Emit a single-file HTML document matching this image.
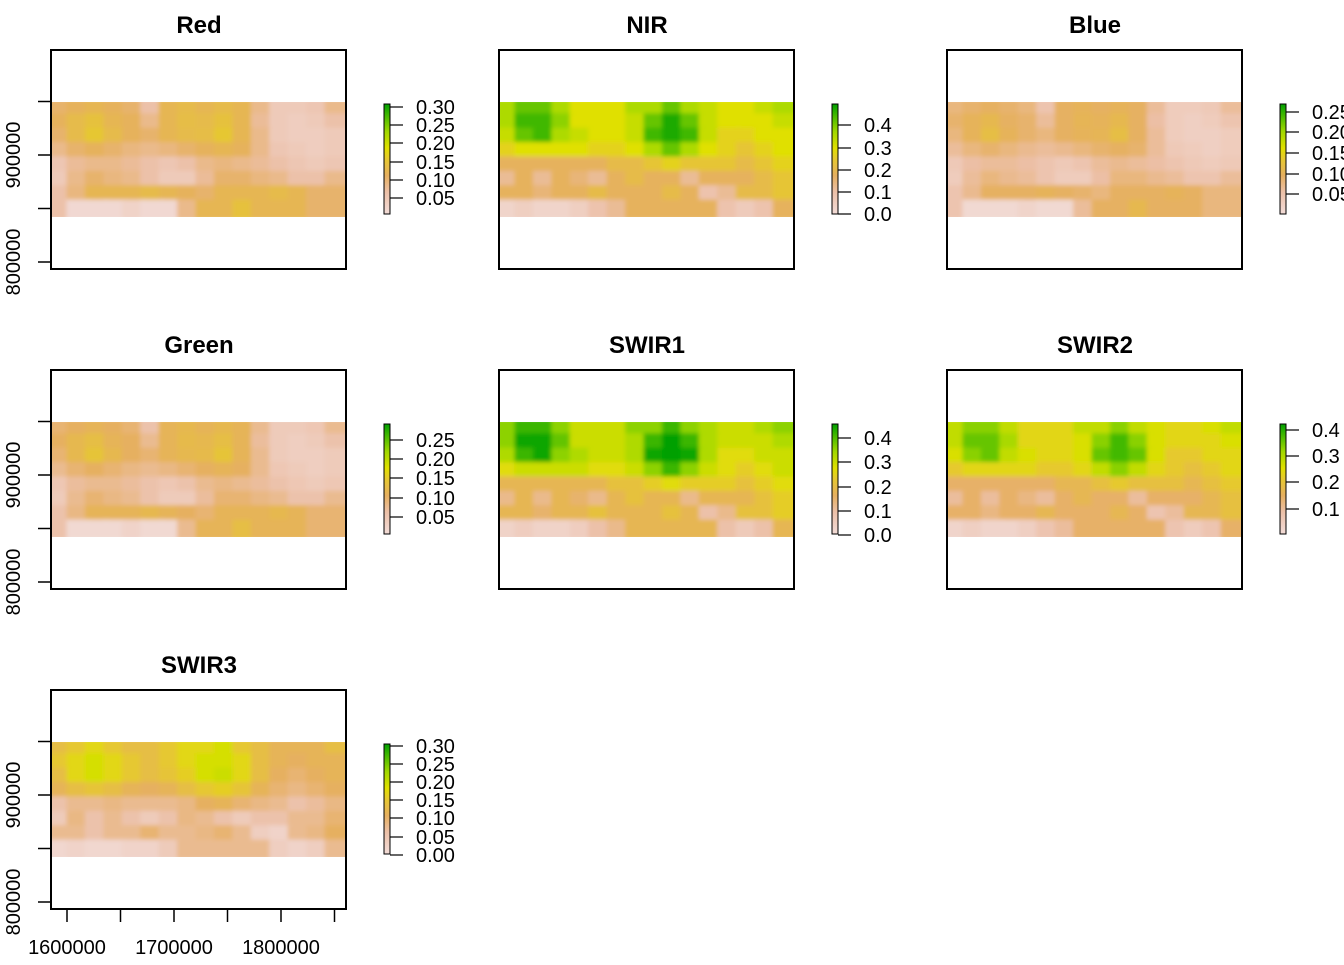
<!DOCTYPE html>
<html><head><meta charset="utf-8"><style>
body{margin:0;background:#fff;font-family:"Liberation Sans",sans-serif}
svg text{font-family:"Liberation Sans",sans-serif}
</style></head><body>
<svg id="c" width="1344" height="960"
 xmlns="http://www.w3.org/2000/svg">
<defs>
<linearGradient id="lg" x1="0" y1="1" x2="0" y2="0">
<stop offset="0" stop-color="#f2dcd8"/><stop offset="0.2" stop-color="#ecc0a8"/>
<stop offset="0.35" stop-color="#e6b060"/><stop offset="0.5" stop-color="#e6c830"/>
<stop offset="0.6" stop-color="#e0e000"/><stop offset="0.75" stop-color="#a0d800"/>
<stop offset="0.9" stop-color="#40b800"/><stop offset="1" stop-color="#00a000"/>
</linearGradient>
<filter id="bl"><feGaussianBlur stdDeviation="2"/></filter>
<clipPath id="cp"><rect x="0" y="0" width="295" height="115"/></clipPath>
</defs>
</svg>
<script>
const redGrid=[
[0.25,0.28,0.3,0.28,0.25,0.15,0.3,0.32,0.3,0.32,0.3,0.2,0.1,0.1,0.12,0.2],
[0.28,0.32,0.35,0.3,0.28,0.2,0.3,0.33,0.32,0.35,0.3,0.18,0.1,0.08,0.1,0.15],
[0.25,0.32,0.38,0.32,0.28,0.25,0.3,0.32,0.33,0.38,0.3,0.2,0.1,0.08,0.08,0.1],
[0.2,0.25,0.28,0.25,0.22,0.2,0.22,0.25,0.28,0.3,0.28,0.2,0.12,0.1,0.08,0.1],
[0.12,0.18,0.2,0.2,0.18,0.15,0.12,0.15,0.2,0.22,0.2,0.18,0.15,0.12,0.1,0.12],
[0.1,0.2,0.25,0.22,0.2,0.15,0.1,0.1,0.18,0.25,0.25,0.22,0.2,0.15,0.15,0.2],
[0.15,0.22,0.3,0.3,0.3,0.32,0.3,0.28,0.25,0.3,0.3,0.3,0.32,0.3,0.25,0.25],
[0.15,0.02,0.02,0.02,0.05,0.02,0.02,0.2,0.3,0.3,0.35,0.3,0.3,0.3,0.25,0.25]];
const nirGrid=[
[0.6,0.7,0.7,0.6,0.5,0.5,0.5,0.6,0.6,0.7,0.6,0.55,0.5,0.5,0.55,0.6],
[0.6,0.75,0.75,0.65,0.5,0.5,0.5,0.55,0.7,0.8,0.7,0.55,0.5,0.5,0.5,0.55],
[0.55,0.7,0.75,0.6,0.55,0.5,0.5,0.55,0.75,0.8,0.75,0.55,0.45,0.45,0.5,0.5],
[0.45,0.5,0.5,0.5,0.5,0.45,0.45,0.5,0.6,0.7,0.6,0.5,0.45,0.4,0.45,0.5],
[0.3,0.3,0.3,0.3,0.3,0.3,0.35,0.35,0.4,0.45,0.4,0.4,0.4,0.35,0.4,0.45],
[0.2,0.3,0.2,0.3,0.25,0.2,0.3,0.35,0.3,0.3,0.2,0.3,0.3,0.3,0.35,0.4],
[0.3,0.3,0.25,0.3,0.3,0.35,0.3,0.3,0.3,0.35,0.3,0.15,0.2,0.35,0.35,0.4],
[0.05,0.08,0.05,0.05,0.08,0.15,0.2,0.3,0.3,0.3,0.3,0.3,0.15,0.1,0.15,0.3]];
const swir3Grid=[
[0.35,0.4,0.45,0.4,0.35,0.35,0.4,0.45,0.45,0.5,0.4,0.35,0.3,0.3,0.3,0.35],
[0.4,0.45,0.5,0.45,0.4,0.35,0.4,0.45,0.5,0.5,0.45,0.35,0.3,0.28,0.3,0.3],
[0.35,0.45,0.5,0.45,0.4,0.35,0.38,0.42,0.5,0.52,0.45,0.35,0.28,0.25,0.28,0.3],
[0.3,0.35,0.38,0.35,0.3,0.28,0.3,0.35,0.4,0.42,0.38,0.3,0.25,0.22,0.25,0.28],
[0.15,0.2,0.2,0.22,0.2,0.2,0.2,0.22,0.28,0.3,0.25,0.22,0.2,0.15,0.18,0.22],
[0.1,0.22,0.15,0.2,0.15,0.1,0.15,0.22,0.2,0.15,0.1,0.15,0.15,0.2,0.2,0.25],
[0.2,0.2,0.15,0.2,0.2,0.25,0.2,0.2,0.22,0.25,0.2,0.08,0.05,0.2,0.22,0.28],
[0.03,0.05,0.03,0.03,0.05,0.05,0.1,0.2,0.2,0.2,0.2,0.2,0.08,0.05,0.08,0.2]];
const titles=["Red","NIR","Blue","Green","SWIR1","SWIR2","SWIR3"];
const gains=[1.3,1.2,1.15,1.25,1.3,1.12,1.25];
const legendLabels=[
["0.30","0.25","0.20","0.15","0.10","0.05"],["0.4","0.3","0.2","0.1","0.0"],
["0.25","0.20","0.15","0.10","0.05"],["0.25","0.20","0.15","0.10","0.05"],
["0.4","0.3","0.2","0.1","0.0"],["0.4","0.3","0.2","0.1"],
["0.30","0.25","0.20","0.15","0.10","0.05","0.00"]];
const legendYs=[[107,125,143,162,180,198],[125,148,170,192,214],[112,132,153,174,194],
[440,459,478,498,517],[438,462,487,511,535],[430,456,482,509],[746,764,782,800,818,837,855]];
const yTickVals=[1000000,950000,900000,850000,800000];
const xTickVals=[1600000,1650000,1700000,1750000,1800000,1850000];
const xLabelVals=[1600000,1700000,1800000];

const NS="http://www.w3.org/2000/svg",svg=document.getElementById('c');
function el(t,a,p){const e=document.createElementNS(NS,t);for(const k in a)e.setAttribute(k,a[k]);(p||svg).appendChild(e);return e;}
const stops=[[0,[242,220,216]],[0.2,[236,192,168]],[0.35,[230,176,96]],[0.5,[230,200,48]],[0.6,[224,224,0]],[0.75,[160,216,0]],[0.9,[64,184,0]],[1,[0,160,0]]];
function cmap(v){v=Math.max(0,Math.min(1,v));for(let i=1;i<stops.length;i++){if(v<=stops[i][0]){const a=stops[i-1],b=stops[i],t=(v-a[0])/(b[0]-a[0]);return 'rgb('+a[1].map((c,j)=>Math.round(c+(b[1][j]-c)*t)).join(',')+')';}}return 'rgb(0,160,0)';}
const colX=[51,499,947],rowY=[50,370,690];
const yS=v=>155+(900000-v)*53.5/50000;
const xS=v=>67+(v-1600000)*107/100000;

titles.forEach((t,i)=>{
 const ox=colX[i%3]-51, oy=rowY[Math.floor(i/3)]-50;
 const g=el('g',{transform:`translate(${ox},${oy})`});
 
 
 const tt=el('text',{x:199,y:33,'text-anchor':'middle','font-size':24,'font-weight':'bold'},g);tt.textContent=t;
 
 const grid=i===6?swir3Grid:(t==="Red"||t==="Green"||t==="Blue"?redGrid:nirGrid);
 const r=el('g',{transform:'translate(51,102)','clip-path':'url(#cp)'},g);
 
 const inner=el('g',{filter:'url(#bl)'},r);
 const cw=295/16,ch=115/8;
 grid.forEach((row,ri)=>row.forEach((v,ci)=>{
  const c=el('rect',{x:ci*cw-3,y:ri*ch-3,width:cw+6,height:ch+6,fill:cmap(v*gains[i])},inner);
  
 }));
 const fr=el('rect',{x:51,y:50,width:295,height:219,fill:'none',stroke:'#000','stroke-width':2},g);
 
 if(i%3===0){
  yTickVals.forEach(v=>{if(yS(v)<50||yS(v)>269)return;el('line',{x1:38,x2:51,y1:yS(v),y2:yS(v),stroke:'#000','stroke-width':1.5},g);});
  [900000,800000].forEach(v=>{const l=el('text',{x:0,y:0,transform:`translate(20,${yS(v)}) rotate(-90)`,'text-anchor':'middle','font-size':20},g);l.textContent=v;
   });
 }
 if(i===6){
  xTickVals.forEach(v=>el('line',{x1:xS(v),x2:xS(v),y1:269,y2:282,stroke:'#000','stroke-width':1.5},g));
  xLabelVals.forEach(v=>{const l=el('text',{x:xS(v),y:264,'text-anchor':'middle','font-size':20,transform:'translate(0,50)'},g);l.textContent=v;
   });
 }
 const lg=el('g',{},g);
 el('rect',{x:384,y:104,width:6,height:110,fill:'url(#lg)',stroke:'#000','stroke-width':1},lg);
 legendLabels[i].forEach((s,k)=>{const y=legendYs[i][k]-oy;
  el('line',{x1:390,x2:403,y1:y,y2:y,stroke:'#000','stroke-width':1.2},lg);
  const l=el('text',{x:416,y:y+7,'font-size':20},lg);l.textContent=s;
  });
});
</script>
</body></html>
